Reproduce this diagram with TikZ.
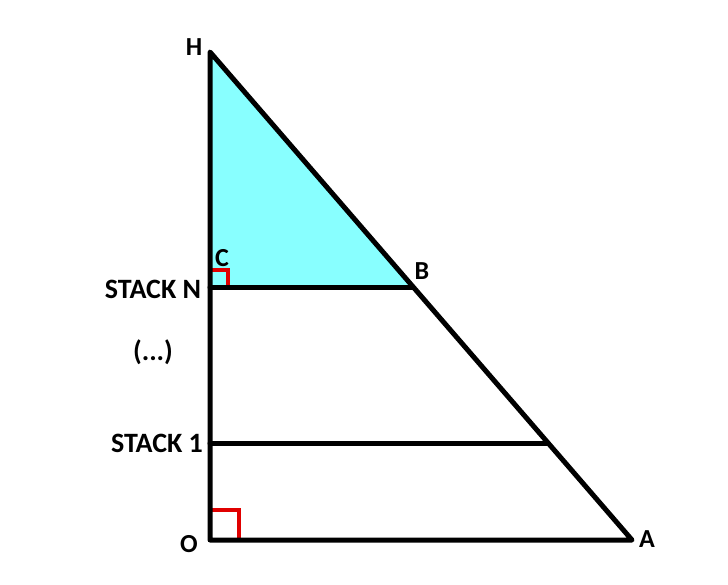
\documentclass[tikz,border=0pt]{standalone}
\usepackage{fontspec}
\setmainfont{Carlito}
\definecolor{fillcyan}{HTML}{88FFFF}
\definecolor{markred}{HTML}{E00000}
\begin{document}
\begin{tikzpicture}[x=1pt,y=-1pt,
  edge/.style={line width=5pt,line cap=round,line join=round},
  rmark/.style={markred,line width=4pt},
  lbl/.style={font=\bfseries\fontsize{26}{26}\selectfont,inner sep=0pt},
  stk/.style={font=\bfseries\fontsize{28}{28}\selectfont,inner sep=0pt}]
\useasboundingbox (0,0) rectangle (728,584);
\coordinate (H) at (210,52);
\coordinate (C) at (210,287);
\coordinate (B) at (413,287);
\coordinate (S1) at (210,443);
\coordinate (S1r) at (548,443);
\coordinate (O) at (210,540);
\coordinate (A) at (632,540);
\fill[fillcyan] (H) -- (B) -- (C) -- cycle;
\draw[rmark] (210,270) -- (228,270) -- (228,290);
\draw[rmark] (210,510) -- (239,510) -- (239,540);
\draw[edge] (H) -- (O) -- (A) -- cycle;
\draw[edge] (C) -- (B);
\draw[edge] (S1) -- (S1r);
\node[lbl] (lH) at (194,47) {H};
\node[lbl] (lC) at (222,258) {C};
\node[lbl] (lB) at (422,271) {B};
\node[lbl] (lO) at (189,544) {O};
\node[lbl] (lA) at (647,539) {A};
\node[stk] (lN) at (153,289) {STACK N};
\node[stk] (ld) at (153,352) {(...)};
\node[stk] (l1) at (157,443) {STACK 1};
\end{tikzpicture}
\end{document}
